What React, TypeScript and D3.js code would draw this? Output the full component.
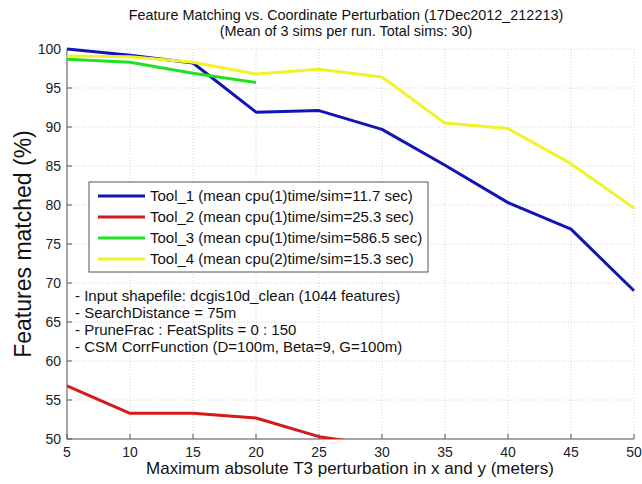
import React from "react";
import * as d3 from "d3";

const xValues = [5, 10, 15, 20, 25, 30, 35, 40, 45, 50];
const tool1 = [100, 99.2, 98.2, 91.9, 92.1, 89.7, 85.1, 80.3, 76.9, 69.0];
const tool2 = [56.8, 53.3, 53.3, 52.7, 50.3, 49.1];
const tool3 = [98.7, 98.3, 96.9, 95.7];
const tool4 = [99.1, 99.0, 98.3, 96.8, 97.4, 96.4, 90.5, 89.8, 85.3, 79.6];
const xTicks = [5, 10, 15, 20, 25, 30, 35, 40, 45, 50];
const yTicks = [50, 55, 60, 65, 70, 75, 80, 85, 90, 95, 100];
const legendLabels = [
  "Tool_1 (mean cpu(1)time/sim=11.7 sec)",
  "Tool_2 (mean cpu(1)time/sim=25.3 sec)",
  "Tool_3 (mean cpu(1)time/sim=586.5 sec)",
  "Tool_4 (mean cpu(2)time/sim=15.3 sec)",
];
const notes = [
  "- Input shapefile: dcgis10d_clean (1044 features)",
  "- SearchDistance = 75m",
  "- PruneFrac : FeatSplits = 0 : 150",
  "- CSM CorrFunction (D=100m, Beta=9, G=100m)",
];
const colors = ["#1414b4", "#d41a1a", "#22e022", "#f2f22a"];

export default function App() {
  const W = 642, H = 484;
  const L = 67, R = 634, T = 49, B = 439;
  const x = d3.scaleLinear().domain([5, 50]).range([L, R]);
  const y = d3.scaleLinear().domain([50, 100]).range([B, T]);
  const series = [tool1, tool2, tool3, tool4];
  const line = d3
    .line<number>()
    .x((_, i) => x(xValues[i]))
    .y((d) => y(d));
  const font = "Liberation Sans, Arial, sans-serif";
  return (
    <svg width={W} height={H} style={{ position: "absolute", left: 0, top: 0, background: "#fff" }} fontFamily={font}>
      <defs>
        <clipPath id="plot">
          <rect x={L} y={T - 3} width={R - L + 3} height={B - T + 3} />
        </clipPath>
      </defs>
      <rect x={0} y={0} width={W} height={H} fill="#fff" />
      {xTicks.map((t) => (
        <line key={"gx" + t} x1={x(t)} x2={x(t)} y1={T} y2={B} stroke="#c8c8c8" strokeWidth={0.8} strokeDasharray="1,2" />
      ))}
      {yTicks.map((t) => (
        <line key={"gy" + t} x1={L} x2={R} y1={y(t)} y2={y(t)} stroke="#c8c8c8" strokeWidth={0.8} strokeDasharray="1,2" />
      ))}
      <line x1={L} x2={L} y1={T} y2={B} stroke="#555" strokeWidth={1} />
      <line x1={L} x2={R} y1={B} y2={B} stroke="#555" strokeWidth={1} />
      {xTicks.map((t) => (
        <g key={"tx" + t}>
          <line x1={x(t)} x2={x(t)} y1={B} y2={B - 5} stroke="#555" />
          <text x={x(t)} y={B + 18} fontSize={14} textAnchor="middle" fill="#222">{t}</text>
        </g>
      ))}
      {yTicks.map((t) => (
        <g key={"ty" + t}>
          <line x1={L} x2={L + 5} y1={y(t)} y2={y(t)} stroke="#555" />
          <text x={L - 6} y={y(t) + 5} fontSize={14} textAnchor="end" fill="#222">{t}</text>
        </g>
      ))}
      <g clipPath="url(#plot)">
        {series.map((s, i) => (
          <path key={"s" + i} d={line(s) || ""} fill="none" stroke={colors[i]} strokeWidth={3} strokeLinejoin="round" />
        ))}
      </g>
      <rect x={89} y={182} width={339} height={90} fill="#fff" stroke="#555" strokeWidth={1} />
      {legendLabels.map((lab, i) => (
        <g key={"lg" + i}>
          <line x1={98} x2={145} y1={196 + i * 21} y2={196 + i * 21} stroke={colors[i]} strokeWidth={3} />
          <text x={150} y={201 + i * 21} fontSize={15} fill="#111">{lab}</text>
        </g>
      ))}
      {notes.map((n, i) => (
        <text key={"n" + i} x={75} y={301 + i * 17} fontSize={15} fill="#111">{n}</text>
      ))}
      <text x={346} y={20} fontSize={14.4} textAnchor="middle" fill="#111">Feature Matching vs. Coordinate Perturbation (17Dec2012_212213)</text>
      <text x={346} y={36} fontSize={14.4} textAnchor="middle" fill="#111">(Mean of 3 sims per run. Total sims: 30)</text>
      <text x={350} y={474} fontSize={17} textAnchor="middle" fill="#111">Maximum absolute T3 perturbation in x and y (meters)</text>
      <text transform={`translate(31,${(T + B) / 2}) rotate(-90)`} fontSize={23} textAnchor="middle" fill="#111">Features matched (%)</text>
    </svg>
  );
}
